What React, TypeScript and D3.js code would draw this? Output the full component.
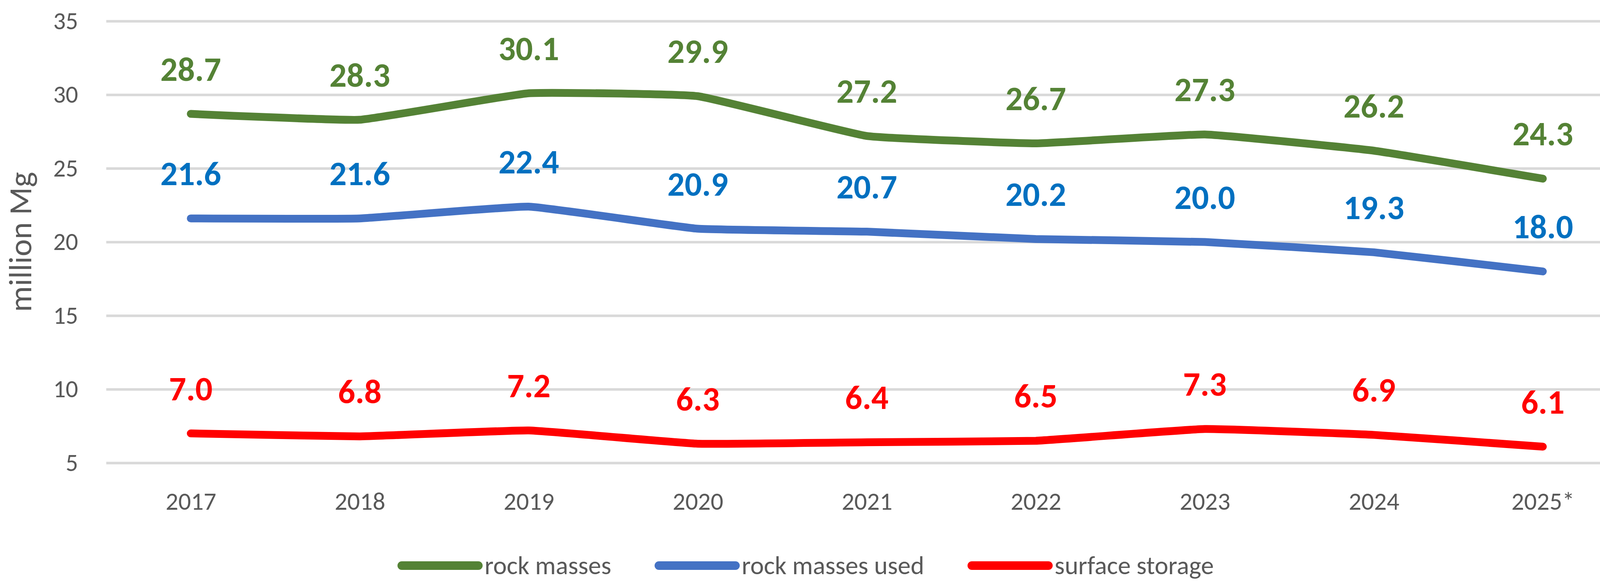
import React, { useEffect, useRef } from 'react';
import * as d3 from 'd3';

const years = ['2017', '2018', '2019', '2020', '2021', '2022', '2023', '2024', '2025*'];
const rockMasses = [28.7, 28.3, 30.1, 29.9, 27.2, 26.7, 27.3, 26.2, 24.3];
const rockMassesUsed = [21.6, 21.6, 22.4, 20.9, 20.7, 20.2, 20.0, 19.3, 18.0];
const surfaceStorage = [7.0, 6.8, 7.2, 6.3, 6.4, 6.5, 7.3, 6.9, 6.1];
const seriesNames = ['rock masses', 'rock masses used', 'surface storage'];
const lineColors = ['#548235', '#4472C4', '#FF0000'];
const labelColors = ['#548235', '#0070C0', '#FF0000'];
const yTicks = [5, 10, 15, 20, 25, 30, 35];
const yTitle = 'million Mg';

const W = 4188;
const H = 1490;
const FONT = 'Carlito, Calibri, Lato, "Open Sans", sans-serif';
const TEXT = '#595959';

export default function App() {
  const ref = useRef<SVGSVGElement>(null);

  useEffect(() => {
    document.body.style.margin = '0';
    const svg = d3.select(ref.current as SVGSVGElement);
    svg.selectAll('*').remove();

    const left = 272, right = 4166, top = 54, bottom = 1185;
    const x = d3.scalePoint<string>().domain(years).range([left, right]).padding(0.5);
    const y = d3.scaleLinear().domain([5, 35]).range([bottom, top]);

    // grid + y labels
    const gy = svg.append('g').attr('transform', `translate(${left},0)`)
      .call(d3.axisLeft(y).tickValues(yTicks).tickSize(-(right - left)).tickPadding(72).tickFormat(d3.format('d')) as any);
    gy.select('.domain').remove();
    gy.selectAll('.tick line').attr('stroke', '#D9D9D9').attr('stroke-width', 6.5);
    gy.selectAll('.tick text').attr('fill', TEXT).attr('font-size', 63).attr('font-family', FONT);

    // x labels
    const gx = svg.append('g').attr('transform', `translate(0,${bottom})`)
      .call(d3.axisBottom(x).tickSize(0).tickPadding(75) as any);
    gx.select('.domain').remove();
    gx.selectAll('.tick text').attr('fill', TEXT).attr('font-size', 64).attr('font-family', FONT);

    // y title
    svg.append('text')
      .attr('transform', `translate(80,${(top + bottom) / 2}) rotate(-90)`)
      .attr('text-anchor', 'middle')
      .attr('font-size', 83).attr('font-family', FONT).attr('fill', TEXT)
      .text(yTitle);

    const series = [rockMasses, rockMassesUsed, surfaceStorage];
    const line = d3.line<number>()
      .x((_, i) => x(years[i]) as number)
      .y((d) => y(d))
      .curve(d3.curveCardinal.tension(0.7));

    series.forEach((vals, si) => {
      svg.append('path')
        .attr('d', line(vals) as string)
        .attr('fill', 'none')
        .attr('stroke', lineColors[si])
        .attr('stroke-width', 20)
        .attr('stroke-linecap', 'round')
        .attr('stroke-linejoin', 'round');
    });

    series.forEach((vals, si) => {
      svg.append('g').selectAll('text').data(vals).join('text')
        .attr('x', (_, i) => x(years[i]) as number)
        .attr('y', (d) => y(d) - 85)
        .attr('text-anchor', 'middle')
        .attr('font-size', 87).attr('font-weight', 700).attr('font-family', FONT)
        .attr('fill', labelColors[si])
        .text((d) => d3.format('.1f')(d));
    });

    // legend
    const lg = svg.append('g');
    const lineLen = 196, gapText = 16, gapItem = 122, ly = 1448, lbase = 1470;
    const items = seriesNames.map((name, i) => {
      const g = lg.append('g');
      g.append('line').attr('x1', 0).attr('x2', lineLen).attr('y1', ly).attr('y2', ly)
        .attr('stroke', lineColors[i]).attr('stroke-width', 22).attr('stroke-linecap', 'round');
      const t = g.append('text').attr('x', lineLen + gapText).attr('y', lbase)
        .attr('font-size', 66).attr('font-family', FONT).attr('fill', TEXT).text(name);
      const tw = (t.node() as SVGTextElement).getComputedTextLength();
      return { g, w: lineLen + gapText + tw };
    });
    const total = d3.sum(items, (d) => d.w) + gapItem * (items.length - 1);
    let cx = 2068 - total / 2;
    items.forEach((it) => {
      it.g.attr('transform', `translate(${cx},0)`);
      cx += it.w + gapItem;
    });
  }, []);

  return <svg ref={ref} width={W} height={H} style={{ display: 'block', background: '#fff' }} />;
}
